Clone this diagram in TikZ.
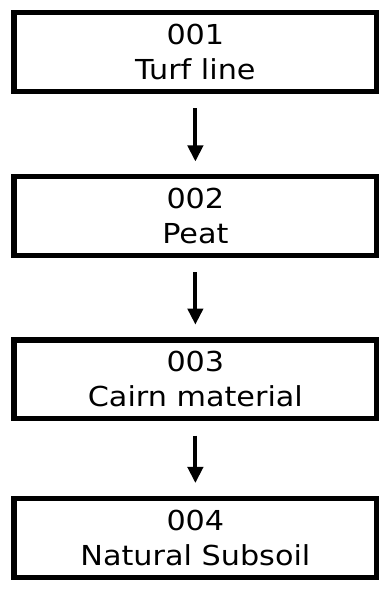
\documentclass[tikz,border=0pt]{standalone}
\usepackage{fontspec}
\usetikzlibrary{arrows.meta}
\newfontfamily\boxfont[FakeStretch=1.1]{DejaVu Sans}
\begin{document}
\begin{tikzpicture}[x=1pt,y=1pt,
  layerbox/.style={draw=black, line width=5.4pt, fill=white,
    minimum width=382.6pt, minimum height=83pt, inner sep=0pt,
    align=center, font=\boxfont\fontsize{29}{37}\selectfont},
  seqarrow/.style={line width=4pt, -{Triangle[length=17pt,width=16pt]},
    shorten <=15pt, shorten >=13.5pt}]
  \useasboundingbox (0,0) rectangle (412,-640);
  \node[layerbox] (b1) at (206,-55)  {001\\Turf line};
  \node[layerbox] (b2) at (206,-228) {002\\Peat};
  \node[layerbox] (b3) at (206,-400) {003\\Cairn material};
  \node[layerbox] (b4) at (206,-567) {004\\Natural Subsoil};
  \draw[seqarrow] (b1.south) -- (b2.north);
  \draw[seqarrow] (b2.south) -- (b3.north);
  \draw[seqarrow] (b3.south) -- (b4.north);
\end{tikzpicture}
\end{document}
